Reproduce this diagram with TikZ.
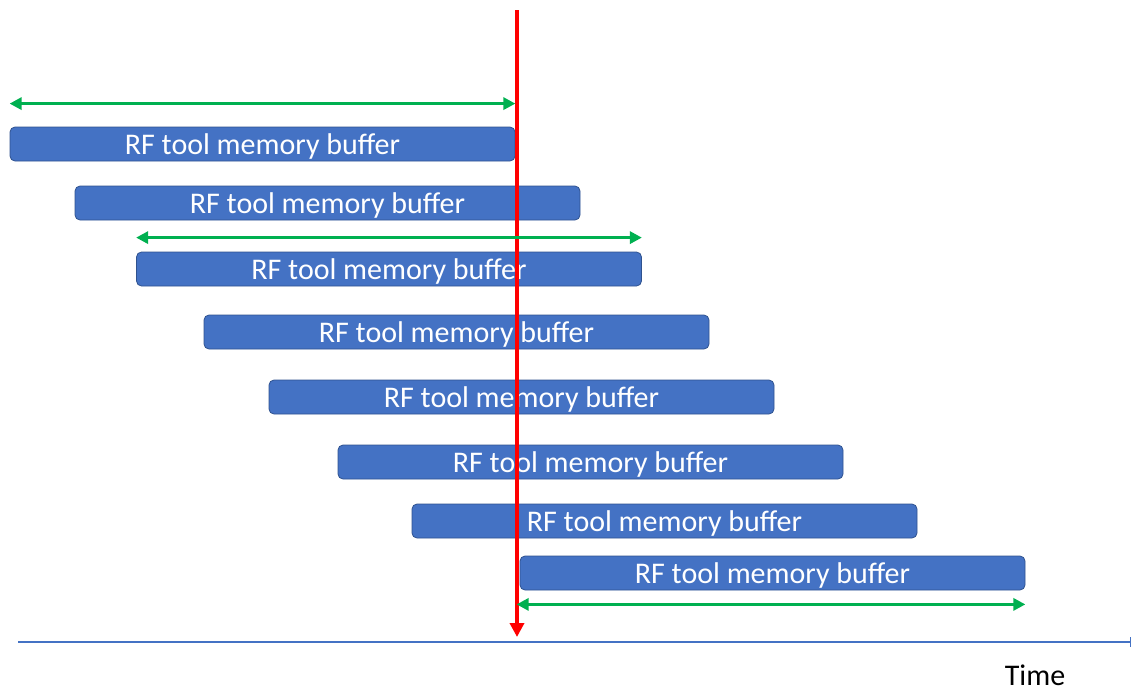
\documentclass[tikz,border=0pt]{standalone}
\usepackage{fontspec}
\setmainfont{Carlito}
\usetikzlibrary{arrows.meta}
\definecolor{barblue}{HTML}{4472C4}
\definecolor{barline}{HTML}{2F528F}
\definecolor{spangreen}{HTML}{00B050}
\tikzset{
  buffer/.style = {draw = barline, fill = barblue, rounded corners = 2.5pt,
    minimum width = 252.5pt, minimum height = 17pt, inner sep = 0pt,
    text height = 13pt, text = white, font = \fontsize{15}{18}\selectfont},
  span/.style = {spangreen, line width = 1.5pt,
    {Triangle[length=6pt,width=6pt]}-{Triangle[length=6pt,width=6pt]}},
}
\begin{document}
\begin{tikzpicture}[x = 0.5pt, y = -0.5pt]
    \useasboundingbox (0,0) rectangle (1131,691);
    % buffers sliding along the time axis
    \foreach \n/\x/\y in {1/262.5/144, 2/327.5/203, 3/389/269, 4/456.5/332,
                          5/521.5/397, 6/590.5/462, 7/664.5/521, 8/772.5/573}
      \node [buffer] (buf\n) at (\x,\y) {RF tool memory buffer};
    % time axis
    \coordinate (axis start) at (18,642);
    \coordinate (axis end) at (1131,642);
    \draw [barblue, line width = 0.6pt, -{Bar[width=5pt]}] (axis start) -- (axis end);
    \node [font = \fontsize{15}{18}\selectfont, inner sep = 1pt] (time) at (1035,675) {Time};
    % current moment
    \coordinate (now top) at (517,10);
    \coordinate (now bottom) at (517,637);
    \draw [red, line width = 2pt, -{Triangle[length=7pt,width=7pt]}] (now top) -- (now bottom);
    % spans
    \draw [span] ([yshift = 11.5pt] buf1.north west) -- ([yshift = 11.5pt] buf1.north east);
    \draw [span] ([yshift = 7pt] buf3.north west) -- ([yshift = 7pt] buf3.north east);
    \draw [span] ([xshift = -1.5pt, yshift = -7pt] buf8.south west) -- ([yshift = -7pt] buf8.south east);
\end{tikzpicture}
\end{document}
